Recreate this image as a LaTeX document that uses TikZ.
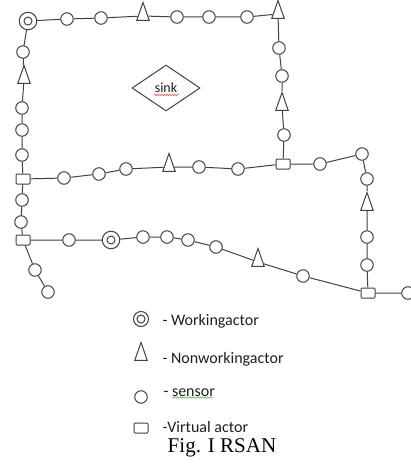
\documentclass[tikz,border=0pt]{standalone}
\usepackage{fontspec}
\setmainfont{Liberation Serif}
\newfontfamily\keyfont{Carlito}
\usetikzlibrary{shapes.geometric,decorations.pathmorphing}
\definecolor{LinkGray}{RGB}{65,65,65}
\definecolor{TextGray}{RGB}{30,30,30}
\definecolor{SpellRed}{RGB}{225,70,70}
\definecolor{SpellGreen}{RGB}{95,170,95}

\begin{document}
\begin{tikzpicture}[x=1pt,y=-1pt,line width=1pt,
    link/.style={draw=LinkGray},
    sensor/.style={circle,draw=LinkGray,fill=white,minimum size=12.5pt,inner sep=0pt},
    wactor/.style={circle,draw=LinkGray,fill=white,minimum size=17.5pt,inner sep=0pt,
      path picture={\draw[LinkGray] (path picture bounding box.center) circle (4pt);}},
    nactor/.style={isosceles triangle,shape border rotate=90,draw=LinkGray,fill=white,
      isosceles triangle apex angle=36,isosceles triangle stretches,
      minimum width=12.5pt,minimum height=18pt,inner sep=0pt},
    vactor/.style={rectangle,rounded corners=1pt,draw=LinkGray,fill=white,
      minimum width=14pt,minimum height=10pt,inner sep=0pt},
    keytext/.style={anchor=base west,inner sep=0pt,text=TextGray,
      font=\keyfont\fontsize{16}{19}\selectfont},
    squiggle/.style={line width=0.5pt,decorate,
      decoration={snake,amplitude=0.7pt,segment length=2.5pt}}]
  \useasboundingbox (0,0) rectangle (411,468);

  % sink
  \node[diamond,draw=LinkGray,minimum width=68pt,minimum height=46pt,inner sep=0pt,
    text=TextGray,font=\keyfont\fontsize{14}{16}\selectfont] (sink) at (166,88) {sink};
  \draw[squiggle,SpellRed] ([xshift=-12pt,yshift=-7pt]sink.center) -- ++(25,0);

  % top row and right branch
  \node[wactor] (wa1) at (28,21) {};
  \node[sensor] (s1) at (67,19) {};
  \node[sensor] (s2) at (101,18) {};
  \node[nactor] (ta1) at (143,16) {};
  \node[sensor] (s3) at (177,17) {};
  \node[sensor] (s4) at (209,17) {};
  \node[sensor] (s5) at (247,17) {};
  \node[nactor] (ta2) at (278,14) {};
  \node[sensor] (s6) at (279,48) {};
  \node[sensor] (s7) at (282,76) {};
  \node[nactor] (ta3) at (282,106) {};
  \node[sensor] (s8) at (284,135) {};
  \node[vactor] (va1) at (283,164) {};

  % left column
  \node[sensor] (s9) at (23,52) {};
  \node[nactor] (ta4) at (24,79) {};
  \node[sensor] (s10) at (22,108) {};
  \node[sensor] (s11) at (22,130) {};
  \node[sensor] (s12) at (22,155) {};
  \node[vactor] (va2) at (23,179) {};
  \node[sensor] (s13) at (22,200) {};
  \node[sensor] (s14) at (21,222) {};
  \node[vactor] (va3) at (23,240) {};
  \node[sensor] (s15) at (35,270) {};
  \node[sensor] (s16) at (48,292) {};

  % middle row and right column
  \node[sensor] (s17) at (64,178) {};
  \node[sensor] (s18) at (99,174) {};
  \node[sensor] (s19) at (126,169) {};
  \node[nactor] (ta5) at (169,167) {};
  \node[sensor] (s20) at (199,167) {};
  \node[sensor] (s21) at (238,169) {};
  \node[sensor] (s22) at (320,164) {};
  \node[sensor] (s23) at (362,154) {};
  \node[sensor] (s24) at (367,179) {};
  \node[nactor] (ta6) at (367,206) {};
  \node[sensor] (s25) at (367,237) {};
  \node[sensor] (s26) at (367,265) {};
  \node[vactor] (va4) at (368,293) {};
  \node[sensor] (s27) at (408,293) {};

  % bottom row
  \node[sensor] (s28) at (69,240) {};
  \node[wactor] (wa2) at (111,240) {};
  \node[sensor] (s29) at (143,237) {};
  \node[sensor] (s30) at (167,237) {};
  \node[sensor] (s31) at (188,240) {};
  \node[sensor] (s32) at (216,247) {};
  \node[nactor] (ta7) at (258,262) {};
  \node[sensor] (s33) at (303,276) {};

  \draw[link] (wa1) -- (s1) -- (s2) -- (ta1) -- (s3) -- (s4) -- (s5) -- (ta2)
    -- (s6) -- (s7) -- (ta3) -- (s8) -- (va1);
  \draw[link] (wa1) -- (s9) -- (ta4) -- (s10) -- (s11) -- (s12) -- (va2)
    -- (s13) -- (s14) -- (va3) -- (s15) -- (s16);
  \draw[link] (va2) -- (s17) -- (s18) -- (s19) -- (ta5) -- (s20) -- (s21) -- (va1)
    -- (s22) -- (s23) -- (s24) -- (ta6) -- (s25) -- (s26) -- (va4) -- (s27);
  \draw[link] (va3) -- (s28) -- (wa2) -- (s29) -- (s30) -- (s31) -- (s32)
    -- (ta7) -- (s33) -- (va4);

  % key
  \node[wactor,minimum size=15pt] (keyW) at (141,319) {};
  \node[keytext] (keyWt) at (162,325) {- Workingactor};
  \node[nactor] (keyT) at (141,356) {};
  \node[keytext] (keyTt) at (162,363) {- Nonworkingactor};
  \node[sensor] (keyS) at (141,397) {};
  \node[keytext] (keySt) at (163,396) {- sensor};
  \draw[squiggle,SpellGreen] ([xshift=9pt,yshift=-1.5pt]keySt.base west) -- ++(41,0);
  \node[vactor] (keyV) at (141,428) {};
  \node[keytext] (keyVt) at (162,432) {-Virtual actor};

  \node[font=\fontsize{21}{24}\selectfont,inner sep=0pt] (fig) at (222,448) {Fig. I RSAN};
\end{tikzpicture}
\end{document}
